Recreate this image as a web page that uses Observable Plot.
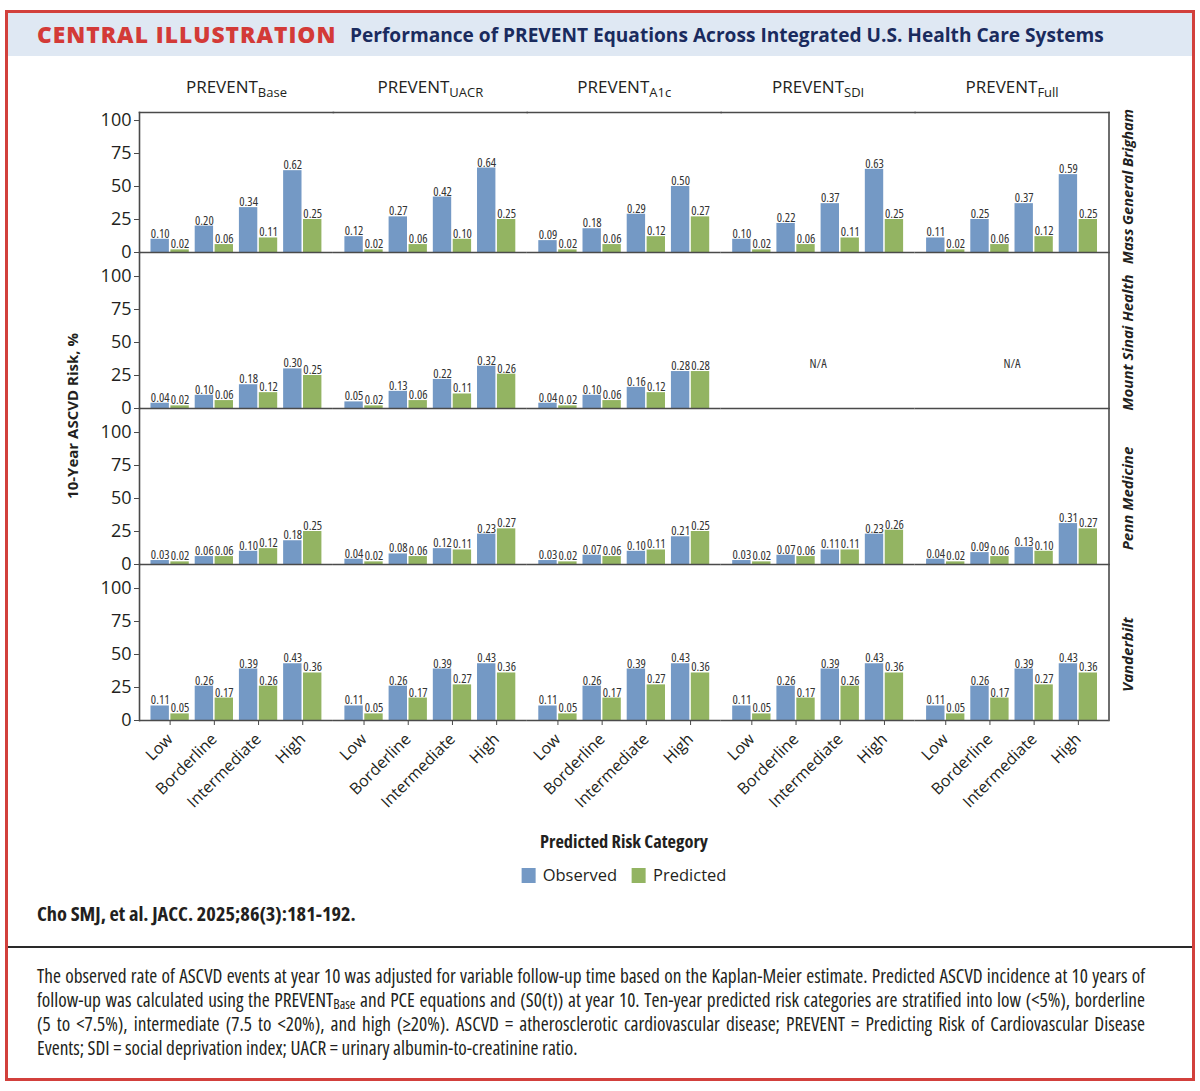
<!DOCTYPE html>
<html><head><meta charset="utf-8">
<script src="https://cdn.jsdelivr.net/npm/d3@7"></script>
<script src="https://cdn.jsdelivr.net/npm/@observablehq/plot@0.6"></script>
<style>
body{margin:0;background:#fff;width:1200px;height:1091px;position:relative;overflow:hidden;font-family:"Open Sans",sans-serif;color:#231f20}
.abs{position:absolute;white-space:nowrap}
.narrow{font-family:"Liberation Sans Narrow","Open Sans",sans-serif;font-stretch:87.5%}
g[font-family*="Narrow"]{font-stretch:87.5%}
#box{left:5px;top:10px;width:1190px;height:1071px;border:3px solid #d2403c;box-sizing:border-box}
#band{left:8px;top:13px;width:1184px;height:43px;background:#dfe8f3}
#t1{left:37px;top:35px;transform:translateY(-50%);line-height:28px;font-size:21px;font-weight:800;letter-spacing:1px;color:#d33a37}
#t2{left:350px;top:35px;transform:translateY(-50%);line-height:28px;font-size:19px;font-weight:700;color:#1a2b5e}
#chart{left:0;top:56px}
#ylab{left:72px;top:416px;transform:translate(-50%,-50%) rotate(-90deg);font-size:15px;font-weight:700;line-height:20px}
#xlab{left:624px;top:841px;transform:translate(-50%,-50%);font-size:17px;font-weight:700;line-height:22px}
#legend{left:624px;top:875px;transform:translate(-50%,-50%);display:flex;align-items:center;font-size:16.5px;line-height:22px}
#legend span.sw{display:inline-block;width:14px;height:15px;margin-right:7px}
#legend span.lab{margin-right:15px}
#legend span.lab:last-child{margin-right:0}
#cite{left:37px;top:913px;transform:translateY(-50%);line-height:24px;font-size:17px;font-weight:700}
#rule{left:8px;top:946px;width:1184px;height:2px;background:#2a2a2a}
#capbox{left:37px;top:964px;width:1108px}
.cap{display:block;width:1108px;font-size:19.3px;line-height:24px;height:24px;text-align:justify;text-align-last:justify;white-space:nowrap}
.cap.last{text-align:left;text-align-last:left}
sub{font-size:0.7em;vertical-align:-0.18em;line-height:0}
</style></head>
<body>
<div id="box" class="abs"></div>
<div id="band" class="abs"></div>
<div id="t1" class="abs">CENTRAL ILLUSTRATION</div>
<div id="t2" class="abs">Performance of PREVENT Equations Across Integrated U.S. Health Care Systems</div>
<div id="chart" class="abs"></div>
<div id="ylab" class="abs">10-Year ASCVD Risk, %</div>
<div id="xlab" class="abs narrow">Predicted Risk Category</div>
<div id="legend" class="abs"></div>
<div id="cite" class="abs narrow">Cho SMJ, et al. JACC. 2025;86(3):181-192.</div>
<div id="rule" class="abs"></div>
<div id="capbox" class="abs narrow">
<span class="cap">The observed rate of ASCVD events at year 10 was adjusted for variable follow-up time based on the Kaplan-Meier estimate. Predicted ASCVD incidence at 10 years of</span>
<span class="cap">follow-up was calculated using the PREVENT<sub>Base</sub> and PCE equations and (S0(t)) at year 10. Ten-year predicted risk categories are stratified into low (&lt;5%), borderline</span>
<span class="cap">(5 to &lt;7.5%), intermediate (7.5 to &lt;20%), and high (≥20%). ASCVD = atherosclerotic cardiovascular disease; PREVENT = Predicting Risk of Cardiovascular Disease</span>
<span class="cap last">Events; SDI = social deprivation index; UACR = urinary albumin-to-creatinine ratio.</span>
</div>
<script>
// ---- data ----
const sites = ["Mass General Brigham", "Mount Sinai Health", "Penn Medicine", "Vanderbilt"];
const equations = ["Base", "UACR", "A1c", "SDI", "Full"];
const categories = ["Low", "Borderline", "Intermediate", "High"];
const series = ["Observed", "Predicted"];
const yTicks = [0, 25, 50, 75, 100];

// rows: equations (Base, UACR, A1c, SDI, Full); columns: categories
const mgbObserved = [
  [0.10, 0.20, 0.34, 0.62],
  [0.12, 0.27, 0.42, 0.64],
  [0.09, 0.18, 0.29, 0.50],
  [0.10, 0.22, 0.37, 0.63],
  [0.11, 0.25, 0.37, 0.59]];
const mgbPredicted = [
  [0.02, 0.06, 0.11, 0.25],
  [0.02, 0.06, 0.10, 0.25],
  [0.02, 0.06, 0.12, 0.27],
  [0.02, 0.06, 0.11, 0.25],
  [0.02, 0.06, 0.12, 0.25]];
const msObserved = [
  [0.04, 0.10, 0.18, 0.30],
  [0.05, 0.13, 0.22, 0.32],
  [0.04, 0.10, 0.16, 0.28],
  null,
  null];
const msPredicted = [
  [0.02, 0.06, 0.12, 0.25],
  [0.02, 0.06, 0.11, 0.26],
  [0.02, 0.06, 0.12, 0.28],
  null,
  null];
const pennObserved = [
  [0.03, 0.06, 0.10, 0.18],
  [0.04, 0.08, 0.12, 0.23],
  [0.03, 0.07, 0.10, 0.21],
  [0.03, 0.07, 0.11, 0.23],
  [0.04, 0.09, 0.13, 0.31]];
const pennPredicted = [
  [0.02, 0.06, 0.12, 0.25],
  [0.02, 0.06, 0.11, 0.27],
  [0.02, 0.06, 0.11, 0.25],
  [0.02, 0.06, 0.11, 0.26],
  [0.02, 0.06, 0.10, 0.27]];
const vandyObserved = [
  [0.11, 0.26, 0.39, 0.43],
  [0.11, 0.26, 0.39, 0.43],
  [0.11, 0.26, 0.39, 0.43],
  [0.11, 0.26, 0.39, 0.43],
  [0.11, 0.26, 0.39, 0.43]];
const vandyPredicted = [
  [0.05, 0.17, 0.26, 0.36],
  [0.05, 0.17, 0.27, 0.36],
  [0.05, 0.17, 0.27, 0.36],
  [0.05, 0.17, 0.26, 0.36],
  [0.05, 0.17, 0.27, 0.36]];

// ---- build tidy table ----
const obsBySite = [mgbObserved, msObserved, pennObserved, vandyObserved];
const predBySite = [mgbPredicted, msPredicted, pennPredicted, vandyPredicted];
const rows = [];
const naRows = [];
sites.forEach((site, si) => equations.forEach((eq, ei) => {
  const o = obsBySite[si][ei], p = predBySite[si][ei];
  if (!o) { naRows.push({site, eq}); return; }
  categories.forEach((cat, ci) => {
    rows.push({site, eq, cat, type: series[0], value: o[ci]});
    rows.push({site, eq, cat, type: series[1], value: p[ci]});
  });
}));

// ---- style ----
const blue = "#7499c5", green = "#93b462", ink = "#231f20", lineC = "#4a4a4a";
const narrow = "'Liberation Sans Narrow','Open Sans',sans-serif";
const half = 19.9;       // inset to split each category band into two bars
const lblShift = 9.95;   // label offset to bar centres
const topInset = 16;

const obsRows = rows.filter(d => d.type === series[0]);
const predRows = rows.filter(d => d.type === series[1]);
const pct = d => d.value * 100;
const fmt = d => d.value.toFixed(2);

const chart = Plot.plot({
  width: 1200, height: 764,
  marginTop: 40, marginLeft: 139, marginRight: 91.5, marginBottom: 100,
  style: {fontFamily: "'Open Sans',sans-serif", color: ink, background: "transparent", overflow: "visible"},
  fx: {domain: equations, padding: 0, round: false, label: null},
  fy: {domain: sites, padding: 0, round: false, label: null, axis: null},
  x: {domain: categories, paddingInner: 0.134, paddingOuter: 0.26, round: false, label: null},
  y: {domain: [0, 118.2], label: null},
  marks: [
    Plot.barY(obsRows, {fx: "eq", fy: "site", x: "cat", y: pct, fill: blue, insetRight: half}),
    Plot.barY(predRows, {fx: "eq", fy: "site", x: "cat", y: pct, fill: green, insetLeft: half}),
    Plot.text(obsRows, {fx: "eq", fy: "site", x: "cat", y: pct, text: fmt, dx: -lblShift, dy: -1.5, lineAnchor: "bottom", fontSize: 12.5, fontFamily: narrow, fill: "#333"}),
    Plot.text(predRows, {fx: "eq", fy: "site", x: "cat", y: pct, text: fmt, dx: lblShift, dy: -1.5, lineAnchor: "bottom", fontSize: 12.5, fontFamily: narrow, fill: "#333"}),
    Plot.text(naRows, {fx: "eq", fy: "site", text: () => "N/A", frameAnchor: "bottom", dy: -41, fontSize: 12.5, fontFamily: narrow, fill: "#333"}),
    Plot.ruleY([0], {stroke: lineC, strokeWidth: 1.6}),
    ...sites.map((s, i) => Plot.frame({anchor: "left", fx: () => equations[0], fy: () => s, insetTop: i === 0 ? topInset : 0, stroke: lineC, strokeWidth: 1.6})),
    ...sites.map((s, i) => Plot.frame({anchor: "right", fx: () => equations[equations.length - 1], fy: () => s, insetTop: i === 0 ? topInset : 0, stroke: lineC, strokeWidth: 1.6})),
    Plot.frame({anchor: "top", fy: () => sites[0], insetTop: topInset, stroke: lineC, strokeWidth: 1.6}),
    Plot.axisY({ticks: yTicks, tickSize: 5, tickPadding: 3, fontSize: 18, label: null, stroke: lineC, fill: ink}),
    Plot.axisX({tickRotate: -45, tickSize: 5, tickPadding: 11, fontSize: 16, label: null, stroke: lineC, fill: ink}),
    Plot.axisFx({anchor: "top", tickSize: 0, tickPadding: 4, fontSize: 17, label: null, fill: ink}),
    Plot.text(sites, {fx: () => equations[equations.length - 1], fy: d => d, text: d => d, frameAnchor: "right", rotate: -90, dx: 19, dy: 12, textAnchor: "middle", fontSize: 15, fontWeight: "bold", fontStyle: "italic", fill: ink})
  ]
});
document.getElementById("chart").appendChild(chart);

// subscripts in the column headers (PREVENT + equation)
const svgNS = "http://www.w3.org/2000/svg";
chart.querySelectorAll('[aria-label="fx-axis tick label"] text').forEach(t => {
  const eq = t.textContent;
  t.textContent = "PREVENT";
  const ts = document.createElementNS(svgNS, "tspan");
  ts.setAttribute("dy", "0.32em");
  ts.setAttribute("font-size", "13");
  ts.textContent = eq;
  t.appendChild(ts);
});

// fit the condensed bar labels to the reference width of "0.10" (~19.3px)
const labelGroups = [...chart.querySelectorAll('g[font-family*="Narrow"]')];
const probe = labelGroups[0] && labelGroups[0].querySelector("text");
if (probe) {
  const w = probe.getBBox().width;
  if (w > 0) {
    const fs = Math.min(12.5, 12.5 * 19.3 / w);
    labelGroups.forEach(g => g.setAttribute("font-size", fs.toFixed(2)));
  }
}
// row labels: condensed bold italic, fitted to the reference length of "Mass General Brigham" (~155px)
const rowTexts = [...chart.querySelectorAll('g[font-style="italic"] text')];
if (rowTexts.length) {
  const g = rowTexts[0].parentNode;
  g.style.fontStretch = "90%";
  const w = rowTexts[0].getBBox().width;
  if (w > 0) g.setAttribute("font-size", Math.min(16, 15 * 155 / w).toFixed(2));
}

// measure a text's natural width in a detached inline span with the same styling
function measure(el, fs) {
  const s = document.createElement("span");
  const cs = getComputedStyle(el);
  s.style.cssText = "position:absolute;visibility:hidden;white-space:nowrap;left:0;top:0";
  s.style.fontFamily = cs.fontFamily;
  s.style.fontWeight = cs.fontWeight;
  s.style.fontStretch = cs.fontStretch;
  s.style.letterSpacing = cs.letterSpacing;
  s.style.fontSize = fs + "px";
  s.innerHTML = el.innerHTML;
  document.body.appendChild(s);
  const w = s.getBoundingClientRect().width;
  s.remove();
  return w;
}
function fit(el, target, max = 40) {
  const w = measure(el, 16);
  const nf = w > 0 ? Math.min(max, 16 * target / w) : 16;
  el.style.fontSize = nf.toFixed(2) + "px";
  return nf;
}
fit(document.getElementById("t1"), 308);
fit(document.getElementById("t2"), 754);
fit(document.getElementById("xlab"), 168);
fit(document.getElementById("cite"), 319);

// legend
const legend = document.getElementById("legend");
[[series[0], blue], [series[1], green]].forEach(([name, c]) => {
  const sw = document.createElement("span"); sw.className = "sw"; sw.style.background = c;
  const lb = document.createElement("span"); lb.className = "lab"; lb.textContent = name;
  legend.append(sw, lb);
});
</script>
</body></html>
